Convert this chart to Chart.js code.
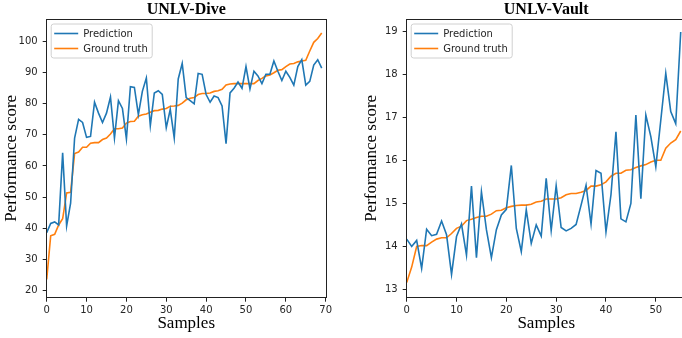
<!DOCTYPE html>
<html><head><meta charset="utf-8">
<script src="https://cdn.jsdelivr.net/npm/chart.js@4"></script>
<style>
html,body{margin:0;padding:0;background:#fff;overflow:hidden;width:682px;height:338px;position:relative;}
.box{position:absolute;top:0;width:341px;height:338px;}
#w1{left:0}
#w2{left:360px}
canvas{display:block}
</style></head><body>
<div class="box" id="w1"><canvas id="c1" width="341" height="338"></canvas></div>
<div class="box" id="w2"><canvas id="c2" width="341" height="338"></canvas></div>
<script>
// ---- UNLV-Dive ----
const diveTitle = 'UNLV-Dive';
const divePrediction = [38.5,41.5,42,41,64.2,40.7,48,69,75,74,69.2,69.5,80.5,77,74,77,82.2,69,81,78.5,68.7,85.5,85.3,76.5,84,88.3,73,83.5,84.2,83,72.3,78.2,69,88,93,82,81,80,89.8,89.5,83,80.5,82.5,82,79.3,67.2,83.5,85,87,85,92,84.8,90.5,89,86.5,89.5,89.5,93.8,90.5,87.5,90.5,88.5,86,92,94.2,86,87.2,92.5,94.2,91.5];
const diveTruth = [23.5,37.5,38,41,43,51.3,51.5,64,64.5,66,66,67.3,67.5,67.5,68.5,69,70.3,72,72,72.2,73.8,74.3,74.4,76,76.5,76.7,77.3,77.8,77.9,78.3,78.5,79.2,79.3,79.5,80.2,81.3,81.8,82,83,83.3,83.3,83.5,84,84.2,84.7,86.1,86.4,86.5,86.5,86.5,86.5,86.5,86.5,87.5,88.2,89,89.3,90,90.8,91,92,92.8,93,93.5,93.8,94,97,99.8,101,102.8];
const diveXTicks = [0,10,20,30,40,50,60,70];
const diveYTicks = [20,30,40,50,60,70,80,90,100];

// ---- UNLV-Vault ----
const vaultTitle = 'UNLV-Vault';
const vaultPrediction = [14.17,14.0,14.14,13.49,14.4,14.25,14.28,14.59,14.27,13.35,14.23,14.52,13.8,15.4,13.74,15.27,14.39,13.74,14.39,14.73,14.86,15.88,14.42,13.88,14.85,14.07,14.5,14.24,15.58,14.37,15.41,14.44,14.36,14.42,14.51,14.96,15.42,14.52,15.76,15.7,14.34,15.2,16.66,14.64,14.57,15.0,17.05,15.11,17.05,16.55,15.85,16.93,18.02,17.13,16.85,18.98];
const vaultTruth = [13.16,13.52,14.0,14.02,14.02,14.1,14.17,14.2,14.2,14.3,14.42,14.47,14.6,14.63,14.67,14.7,14.7,14.75,14.83,14.84,14.9,14.93,14.95,14.96,14.96,14.98,15.03,15.05,15.1,15.1,15.1,15.13,15.2,15.23,15.23,15.26,15.3,15.4,15.4,15.43,15.5,15.63,15.7,15.7,15.77,15.78,15.83,15.87,15.9,15.96,16.0,16.0,16.28,16.4,16.48,16.68];
const vaultXTicks = [0,10,20,30,40,50];
const vaultYTicks = [13,14,15,16,17,18,19];

const seriesLabels = ['Prediction','Ground truth'];
const seriesColors = ['#1f77b4','#ff7f0e'];

function framePlugin(title){
  return {
    id:'frame',
    afterDatasetsDraw(chart){
      const {ctx, chartArea:a} = chart;
      ctx.save();
      ctx.strokeStyle = '#222';
      ctx.lineWidth = 1;
      ctx.strokeRect(Math.round(a.left)-0.5, Math.round(a.top)+0.5, Math.round(a.right-a.left)+1, Math.round(a.bottom-a.top)-1);
      ctx.restore();
    },
    afterDraw(chart){
      const {ctx, chartArea:a} = chart;
      ctx.save();
      // title
      ctx.fillStyle = '#000';
      ctx.font = 'bold 16px "Liberation Serif"';
      ctx.textAlign = 'center';
      ctx.textBaseline = 'alphabetic';
      ctx.fillText(title, (a.left+a.right)/2, 14);
      // legend
      const bx = a.left + 4.5, by = a.top + 5, bw = 101, bh = 34;
      ctx.beginPath();
      if (ctx.roundRect) ctx.roundRect(bx, by, bw, bh, 2.5); else ctx.rect(bx,by,bw,bh);
      ctx.fillStyle = 'rgba(255,255,255,0.8)';
      ctx.fill();
      ctx.strokeStyle = '#d0d0d0';
      ctx.lineWidth = 1;
      ctx.stroke();
      ctx.font = '10px "DejaVu Sans"';
      ctx.textAlign = 'left';
      ctx.textBaseline = 'middle';
      chart.data.datasets.forEach((ds, k) => {
        const yy = by + 9.5 + k*15;
        ctx.strokeStyle = ds.borderColor;
        ctx.lineWidth = 1.6;
        ctx.beginPath();
        ctx.moveTo(bx+3, yy); ctx.lineTo(bx+27, yy);
        ctx.stroke();
        ctx.fillStyle = '#262626';
        ctx.fillText(ds.label, bx+32, yy+0.5);
      });
      ctx.restore();
    }
  };
}

function makeChart(id, title, pred, truth, xTicks, yTicks, xMax, yMin, yMax){
  const toPts = arr => arr.map((v,i)=>({x:i, y:v}));
  const tickFont = {family:'DejaVu Sans', size:10};
  return new Chart(document.getElementById(id), {
    type:'line',
    data:{datasets:[
      {label:seriesLabels[0], data:toPts(pred), borderColor:seriesColors[0], borderWidth:1.6, pointRadius:0, tension:0, fill:false},
      {label:seriesLabels[1], data:toPts(truth), borderColor:seriesColors[1], borderWidth:1.6, pointRadius:0, tension:0, fill:false}
    ]},
    options:{
      responsive:false, animation:false, events:[],
      layout:{padding:{top:19, right:15.3, left:0, bottom:0}},
      plugins:{legend:{display:false}, tooltip:{enabled:false}, title:{display:false}},
      scales:{
        x:{type:'linear', min:0, max:xMax,
          afterFit(s){ s.height = 40.3; },
          afterBuildTicks(s){ s.ticks = xTicks.map(v=>({value:v})); },
          ticks:{font:tickFont, color:'#262626', padding:3, maxRotation:0, autoSkip:false},
          grid:{display:true, drawOnChartArea:false, drawTicks:true, tickLength:4, tickColor:'#222', tickWidth:1},
          border:{display:false},
          title:{display:true, text:'Samples', font:{family:'Liberation Serif', size:17}, color:'#000', padding:{top:0, bottom:4}}
        },
        y:{type:'linear', min:yMin, max:yMax,
          afterFit(s){ s.width = 46.7; },
          afterBuildTicks(s){ s.ticks = yTicks.map(v=>({value:v})); },
          ticks:{font:tickFont, color:'#262626', padding:5, autoSkip:false},
          grid:{display:true, drawOnChartArea:false, drawTicks:true, tickLength:4, tickColor:'#222', tickWidth:1},
          border:{display:false},
          title:{display:true, text:'Performance score', font:{family:'Liberation Serif', size:17}, color:'#000', padding:{top:1.5, bottom:0}}
        }
      }
    },
    plugins:[framePlugin(title)]
  });
}

makeChart('c1', diveTitle, divePrediction, diveTruth, diveXTicks, diveYTicks, 70, 17.6, 107.3);
makeChart('c2', vaultTitle, vaultPrediction, vaultTruth, vaultXTicks, vaultYTicks, 56, 12.81, 19.28);
</script>
</body></html>
